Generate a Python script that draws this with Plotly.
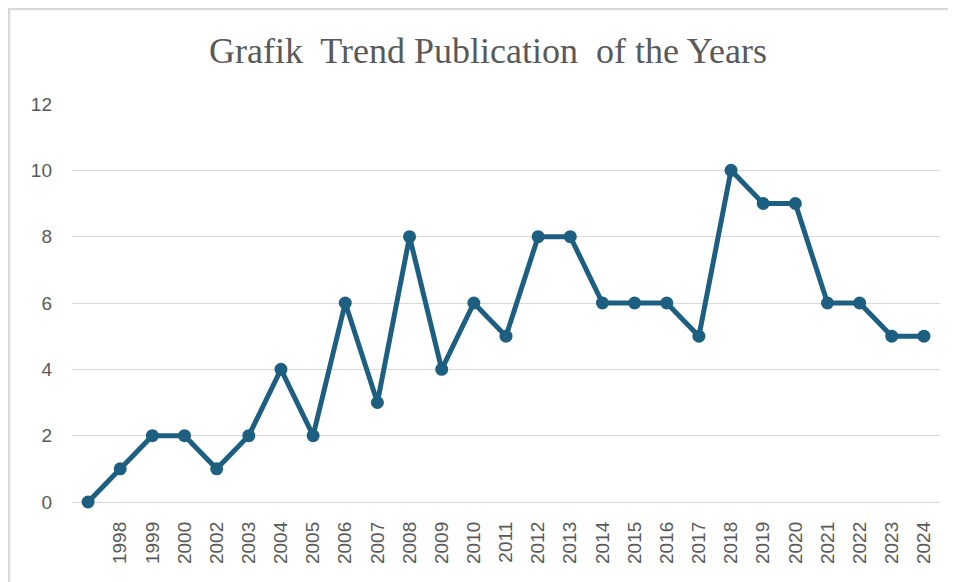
import plotly.graph_objects as go

years = [" ", "1998", "1999", "2000", "2002", "2003", "2004", "2005", "2006", "2007",
         "2008", "2009", "2010", "2011", "2012", "2013", "2014", "2015", "2016", "2017",
         "2018", "2019", "2020", "2021", "2022", "2023", "2024"]
publications = [0, 1, 2, 2, 1, 2, 4, 2, 6, 3, 8, 4, 6, 5, 8, 8, 6, 6, 6, 5, 10, 9, 9, 6, 6, 5, 5]
y_ticks = [0, 2, 4, 6, 8, 10, 12]

W, H = 948, 574
ML, MR, MT, MB = 64, 16, 96, 80
pw, ph = W - ML - MR, H - MT - MB

def px(x):
    return (x - ML) / pw

def py(y):
    return (H - MB - y) / ph

fig = go.Figure()
fig.add_trace(go.Scatter(
    x=years, y=publications, mode="lines+markers",
    line=dict(color="#1d5f80", width=5),
    marker=dict(color="#1d5f80", size=13),
    cliponaxis=False, showlegend=False,
))

gray = "#d9d9d9"
fig.update_layout(
    width=W, height=H,
    margin=dict(l=ML, r=MR, t=MT, b=MB),
    paper_bgcolor="white", plot_bgcolor="white",
    title=dict(text="Grafik&nbsp; Trend Publication&nbsp; of the Years", x=480 / W, xanchor="center",
               xref="container",
               y=1 - 42 / H, yanchor="middle",
               font=dict(family="Liberation Serif", size=36, color="#595959")),
    xaxis=dict(type="category", range=[-0.5, len(years) - 0.5], tickangle=-90,
               showgrid=False, showline=False,
               ticks="", ticklabelstandoff=15,
               tickfont=dict(family="Liberation Sans", size=19, color="#595959")),
    yaxis=dict(range=[0, 12], tickvals=y_ticks, showgrid=True, gridcolor=gray, gridwidth=1.3,
               zeroline=True, zerolinecolor=gray, zerolinewidth=1.3, showline=False,
               ticks="", ticklabelstandoff=19,
               tickfont=dict(family="Liberation Sans", size=19, color="#595959")),
    shapes=[
        dict(type="line", xref="paper", yref="paper", x0=px(0), x1=px(W + 20), y0=py(1), y1=py(1),
             line=dict(color=gray, width=2.5)),
        dict(type="line", xref="paper", yref="paper", x0=px(1), x1=px(1), y0=py(0), y1=py(H + 20),
             line=dict(color=gray, width=2.5)),
    ],
)

fig.write_html("out.html")
